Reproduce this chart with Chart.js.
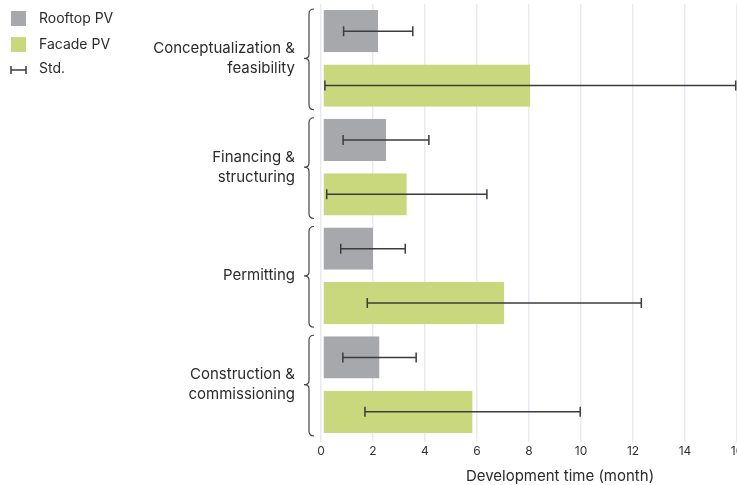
<!DOCTYPE html>
<html>
<head>
<meta charset="utf-8">
<script src="https://cdn.jsdelivr.net/npm/chart.js@4"></script>
<style>
  html, body { margin: 0; padding: 0; background: #fff; }
  #wrap { width: 737px; height: 485px; }
</style>
</head>
<body>
<div id="wrap"><canvas id="grafica"></canvas></div>
<script>
// Etapas de desarrollo y tiempos medios (meses) con desviación estándar
const categories = [
  ["Conceptualization &", "feasibility"],
  ["Financing &", "structuring"],
  ["Permitting"],
  ["Construction &", "commissioning"]
];
const rooftopMean = [2.2, 2.5, 2.0, 2.25];
const rooftopStd = [1.33, 1.65, 1.24, 1.41];
const facadeMean = [8.05, 3.3, 7.05, 5.83];
const facadeStd = [7.9, 3.08, 5.27, 4.14];
const xTicks = [0, 2, 4, 6, 8, 10, 12, 14, 16];

const FONT = "Inter, 'Noto Sans', sans-serif";
const GREY = "#a7a8ab";
const GREEN = "#c9d87d";
const INK = "#2b2b2b";

// Barras de error (media ± desviación)
const errorBars = {
  id: "errorBars",
  afterDatasetsDraw(chart) {
    const { ctx, scales: { x } } = chart;
    const stds = [rooftopStd, facadeStd];
    ctx.save();
    ctx.strokeStyle = "#3c3c3c";
    ctx.lineWidth = 1.5;
    chart.data.datasets.forEach((ds, d) => {
      chart.getDatasetMeta(d).data.forEach((bar, i) => {
        const m = ds.data[i], s = stds[d][i];
        const x0 = x.getPixelForValue(m - s);
        const x1 = x.getPixelForValue(m + s);
        const y = bar.y;
        ctx.beginPath();
        ctx.moveTo(x0, y); ctx.lineTo(x1, y);
        ctx.moveTo(x0, y - 5); ctx.lineTo(x0, y + 5);
        ctx.moveTo(x1, y - 5); ctx.lineTo(x1, y + 5);
        ctx.stroke();
      });
    });
    ctx.restore();
  }
};

// Llaves a la izquierda de cada grupo, leyenda y título del eje
const decorations = {
  id: "decorations",
  afterDraw(chart) {
    const { ctx, scales: { x, y }, chartArea } = chart;
    ctx.save();

    // llaves
    const bx = chartArea.left - 12;
    ctx.strokeStyle = "#444";
    ctx.lineWidth = 1.2;
    const half = (y.getPixelForValue(1) - y.getPixelForValue(0)) / 2;
    categories.forEach((c, i) => {
      const mid = y.getPixelForValue(i);
      const top = mid - half + 5;
      const bot = mid + half - 3;
      ctx.beginPath();
      ctx.moveTo(bx + 5, top);
      ctx.quadraticCurveTo(bx, top, bx, top + 5);
      ctx.lineTo(bx, mid - 4);
      ctx.quadraticCurveTo(bx, mid, bx - 5, mid);
      ctx.quadraticCurveTo(bx, mid, bx, mid + 4);
      ctx.lineTo(bx, bot - 5);
      ctx.quadraticCurveTo(bx, bot, bx + 5, bot);
      ctx.stroke();
    });

    // leyenda
    ctx.font = "14px " + FONT;
    ctx.textBaseline = "middle";
    ctx.textAlign = "left";
    ctx.fillStyle = GREY;
    ctx.fillRect(11, 11, 15, 15);
    ctx.fillStyle = GREEN;
    ctx.fillRect(11, 37, 15, 15);
    ctx.strokeStyle = "#3c3c3c";
    ctx.lineWidth = 1.5;
    ctx.beginPath();
    ctx.moveTo(11, 70); ctx.lineTo(26, 70);
    ctx.moveTo(11, 66); ctx.lineTo(11, 74);
    ctx.moveTo(26, 66); ctx.lineTo(26, 74);
    ctx.stroke();
    ctx.fillStyle = INK;
    ctx.fillText("Rooftop PV", 39, 19);
    ctx.fillText("Facade PV", 39, 45);
    ctx.fillText("Std.", 39, 69);

    // título del eje x
    ctx.font = "15px " + FONT;
    ctx.textAlign = "center";
    ctx.fillText("Development time (month)", 560, 476);
    ctx.restore();
  }
};

new Chart(document.getElementById("grafica").getContext("2d"), {
  type: "bar",
  data: {
    labels: categories,
    datasets: [
      {
        label: "Rooftop PV",
        data: rooftopMean,
        backgroundColor: GREY,
        borderColor: "#fff",
        borderWidth: { left: 2, right: 0, top: 0, bottom: 0 },
        borderSkipped: false,
        categoryPercentage: 1.0,
        barPercentage: 0.775
      },
      {
        label: "Facade PV",
        data: facadeMean,
        backgroundColor: GREEN,
        borderColor: "#fff",
        borderWidth: { left: 2, right: 0, top: 0, bottom: 0 },
        borderSkipped: false,
        categoryPercentage: 1.0,
        barPercentage: 0.775
      }
    ]
  },
  options: {
    indexAxis: "y",
    responsive: true,
    maintainAspectRatio: false,
    animation: false,
    layout: { padding: { top: 4, right: 0, bottom: 0, left: 0 } },
    plugins: {
      legend: { display: false },
      tooltip: { enabled: false }
    },
    scales: {
      x: {
        min: 0,
        max: 16,
        afterBuildTicks(scale) {
          scale.ticks = xTicks.map(v => ({ value: v }));
        },
        afterFit(scale) {
          scale.paddingRight = 0;
          scale.height = 46;
        },
        grid: {
          color: "#e9e9f4",
          lineWidth: 1.5,
          drawTicks: true,
          tickLength: 3
        },
        border: { display: false },
        ticks: {
          color: "#333",
          font: { family: FONT, size: 12 },
          padding: 2,
          maxRotation: 0
        }
      },
      y: {
        afterFit(scale) {
          scale.width = 321;
          scale.paddingTop = 0;
          scale.paddingBottom = 0;
        },
        grid: { display: false, drawTicks: false },
        border: { display: false },
        ticks: {
          color: INK,
          font: { family: FONT, size: 15, lineHeight: 1.35 },
          padding: 26
        }
      }
    }
  },
  plugins: [errorBars, decorations]
});
</script>
</body>
</html>
